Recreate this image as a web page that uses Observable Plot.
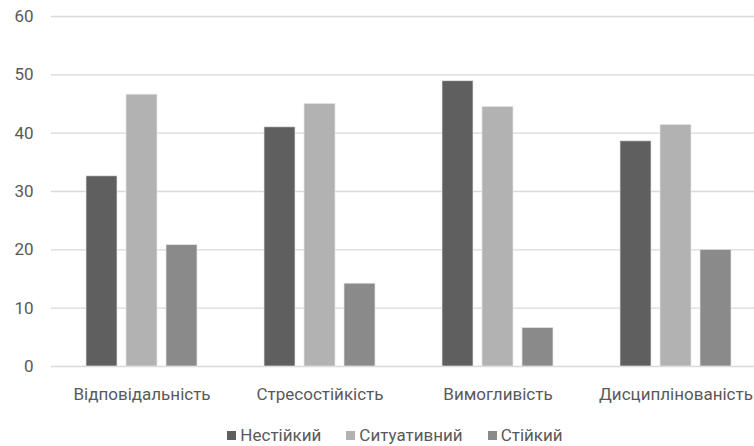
<!DOCTYPE html>
<html>
<head>
<meta charset="utf-8">
<script src="https://cdn.jsdelivr.net/npm/d3@7"></script>
<script src="https://cdn.jsdelivr.net/npm/@observablehq/plot@0.6"></script>
<style>
  html, body { margin: 0; padding: 0; background: #fff; overflow: hidden; width: 754px; height: 446px; }
  #chart svg { display: block; overflow: hidden; }
  .legend { display: flex; justify-content: center; align-items: center; gap: 25px; height: 30px;
    margin-left: 36px; font-family: Roboto, sans-serif; font-size: 17px; color: #595959; }
  .legend span.item { display: flex; align-items: center; }
  .legend i { display: inline-block; width: 9px; height: 9px; margin-right: 4px; }
</style>
</head>
<body>
<div id="chart"></div>
<div class="legend" id="legend"></div>
<script>
const categories = ["Відповідальність", "Стресостійкість", "Вимогливість", "Дисциплінованість"];
const series = ["Нестійкий", "Ситуативний", "Стійкий"];
const nestiikyi = [32.6, 41.0, 48.9, 38.6];
const sytuatyvnyi = [46.6, 45.0, 44.5, 41.4];
const stiikyi = [20.8, 14.2, 6.6, 20.0];
const colors = ["#5f5f5f", "#b2b2b2", "#8a8a8a"];
const yTicks = [0, 10, 20, 30, 40, 50, 60];

const valuesBySeries = [nestiikyi, sytuatyvnyi, stiikyi];
const data = [];
series.forEach((s, si) => categories.forEach((c, ci) => data.push({category: c, series: s, value: valuesBySeries[si][ci]})));

const offsets = [-40, 0, 40];
const barMarks = series.map((s, si) => Plot.barY(data.filter(d => d.series === s), {
  x: "category", y: "value", fill: "series", dx: offsets[si], stroke: "#e6e6e6", strokeWidth: 0.7
}));

const chart = Plot.plot({
  width: 754,
  height: 420,
  marginTop: 16,
  marginBottom: 54,
  marginLeft: 51,
  marginRight: 0,
  style: {fontFamily: "Roboto, sans-serif", fontSize: "17px", color: "#595959", background: "#fff"},
  x: {domain: categories, range: [51, 765], paddingInner: 0.826, paddingOuter: 0.413, label: null},
  y: {domain: [0, 60], ticks: yTicks, label: null},
  color: {domain: series, range: colors},
  marks: [
    Plot.ruleY(yTicks, {stroke: "#d9d9d9", strokeWidth: 1.3}),
    ...barMarks,
    Plot.axisY({ticks: yTicks, tickSize: 0, tickPadding: 18, label: null, fontSize: 17, fill: "#595959"}),
    Plot.axisX({tickSize: 0, tickPadding: 21, label: null, fontSize: 17, fill: "#595959"})
  ]
});
document.getElementById("chart").appendChild(chart);

const legend = document.getElementById("legend");
series.forEach((s, i) => {
  const item = document.createElement("span");
  item.className = "item";
  const sw = document.createElement("i");
  sw.style.background = colors[i];
  item.appendChild(sw);
  item.appendChild(document.createTextNode(s));
  legend.appendChild(item);
});
</script>
</body>
</html>
